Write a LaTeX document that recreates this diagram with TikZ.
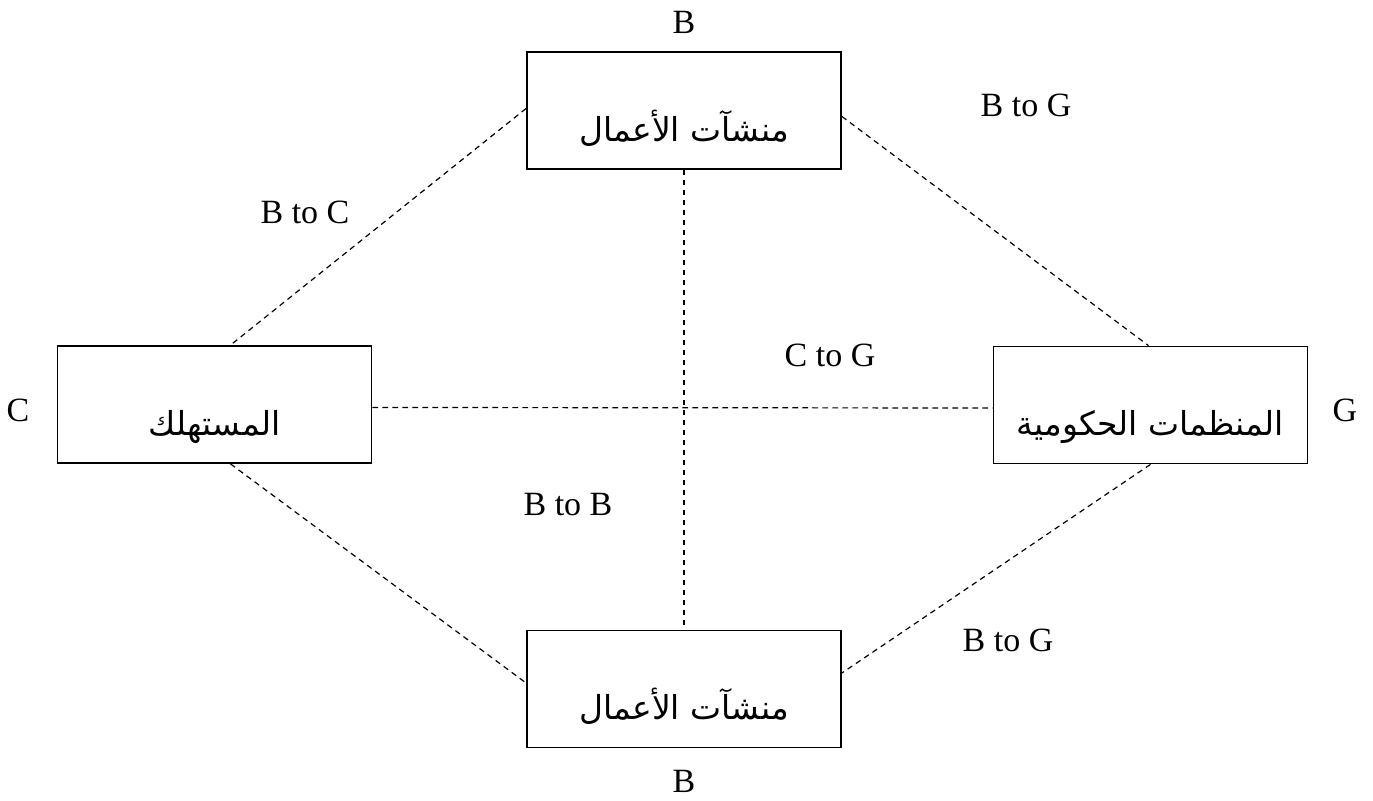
\documentclass[tikz,border=0pt]{standalone}
\usepackage{fontspec}
\setmainfont{Liberation Serif}
\newfontfamily\arabicfont[Script=Arabic]{DejaVu Sans}
\TeXXeTstate=1
\usetikzlibrary{positioning}

\tikzset{
    actor/.style={draw=black, line width=0.9pt, minimum width=157pt, minimum height=58.5pt,
        text height=36pt, text depth=5pt, font=\arabicfont\fontsize{16.5}{19}\selectfont},
    link/.style={line width=0.6pt, dash pattern=on 2.8pt off 2.2pt},
    tag/.style={font=\fontsize{17}{20}\selectfont}
}

\begin{document}
\begin{tikzpicture}[x=0.5pt, y=-0.5pt]
    \useasboundingbox (0,0) rectangle (1373,801);

    % Boxes
    \node[actor] (busTop) at (684,110.5) {\beginR منشآت الأعمال\endR};
    \node[actor] (consumer) at (214.5,404.5) {\beginR المستهلك\endR};
    \node[actor] (govt) at (1150.5,405) {\beginR المنظمات الحكومية\endR};
    \node[actor] (busBottom) at (684,689) {\beginR منشآت الأعمال\endR};

    % Letters beside the boxes
    \node[tag] (bTop) at (684,22) {B};
    \node[tag] (cSide) at (18,410) {C};
    \node[tag] (gSide) at (1345,410) {G};
    \node[tag] (bBottom) at (684,781) {B};

    % Links
    \draw[link] ([yshift=1pt]busTop.west) -- ([xshift=8pt]consumer.north);
    \draw[link] ([yshift=-3pt]busTop.east) -- ([xshift=-1pt]govt.north);
    \draw[link] (busTop.south) -- (busBottom.north);
    \draw[link] ([yshift=-1.5pt]consumer.east) -- ([yshift=-1.5pt]govt.west);
    \draw[link] ([xshift=8pt]consumer.south) -- ([yshift=3pt]busBottom.west);
    \draw[link] (govt.south) -- ([yshift=8pt]busBottom.east);

    % Link labels
    \node[tag] (bgTop) at (1026,105) {B to G};
    \node[tag] (bc) at (305,212) {B to C};
    \node[tag] (cg) at (830,355) {C to G};
    \node[tag] (bb) at (568,505) {B to B};
    \node[tag] (bgBottom) at (1008,640) {B to G};
\end{tikzpicture}
\end{document}
